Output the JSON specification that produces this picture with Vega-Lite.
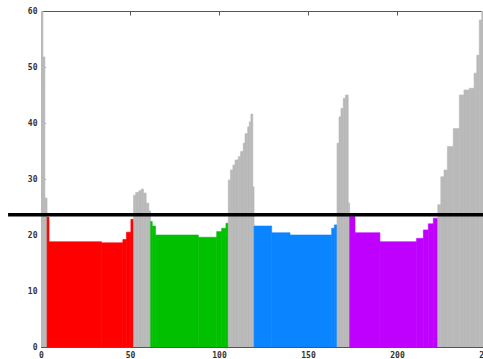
{
  "$schema": "https://vega.github.io/schema/vega-lite/v6.json",
  "autosize": "none",
  "width": 445,
  "height": 336,
  "padding": {"left": 41, "top": 11, "right": 0, "bottom": 12},
  "background": "white",
  "config": {
    "view": {"stroke": "#555", "strokeWidth": 1},
    "axis": {
      "grid": false,
      "domain": false,
      "labelFont": "DejaVu Sans Mono",
      "labelFontWeight": "bold",
      "labelFontSize": 8,
      "labelColor": "#333",
      "tickColor": "#555",
      "title": null
    }
  },
  "datasets": {
    "bars": [
      {"x0": 0, "x1": 1.1, "v": 60, "kind": "gap"},
      {"x0": 1.1, "x1": 2.2, "v": 51.8, "kind": "gap"},
      {"x0": 2.2, "x1": 3.4, "v": 26.6, "kind": "gap"},
      {"x0": 3.4, "x1": 4.5, "v": 23.2, "kind": "A"},
      {"x0": 4.5, "x1": 34, "v": 18.8, "kind": "A"},
      {"x0": 34, "x1": 46, "v": 18.6, "kind": "A"},
      {"x0": 46, "x1": 48, "v": 19.2, "kind": "A"},
      {"x0": 48, "x1": 50.5, "v": 20.5, "kind": "A"},
      {"x0": 50.5, "x1": 52, "v": 22.8, "kind": "A"},
      {"x0": 52, "x1": 53.2, "v": 27.1, "kind": "gap"},
      {"x0": 53.2, "x1": 55, "v": 27.6, "kind": "gap"},
      {"x0": 55, "x1": 56.3, "v": 27.9, "kind": "gap"},
      {"x0": 56.3, "x1": 57.6, "v": 28.2, "kind": "gap"},
      {"x0": 57.6, "x1": 59.1, "v": 27.5, "kind": "gap"},
      {"x0": 59.1, "x1": 60.6, "v": 25.7, "kind": "gap"},
      {"x0": 60.6, "x1": 61.6, "v": 24.3, "kind": "gap"},
      {"x0": 61.6, "x1": 62.5, "v": 22.4, "kind": "B"},
      {"x0": 62.5, "x1": 64.3, "v": 21.6, "kind": "B"},
      {"x0": 64.3, "x1": 88.4, "v": 20.0, "kind": "B"},
      {"x0": 88.4, "x1": 98.7, "v": 19.6, "kind": "B"},
      {"x0": 98.7, "x1": 101.5, "v": 20.6, "kind": "B"},
      {"x0": 101.5, "x1": 103.9, "v": 21.2, "kind": "B"},
      {"x0": 103.9, "x1": 105.2, "v": 22.1, "kind": "B"},
      {"x0": 105.2, "x1": 106.4, "v": 29.8, "kind": "gap"},
      {"x0": 106.4, "x1": 107.8, "v": 31.6, "kind": "gap"},
      {"x0": 107.8, "x1": 109.0, "v": 32.5, "kind": "gap"},
      {"x0": 109.0, "x1": 110.8, "v": 33.4, "kind": "gap"},
      {"x0": 110.8, "x1": 112.1, "v": 34.0, "kind": "gap"},
      {"x0": 112.1, "x1": 113.6, "v": 34.9, "kind": "gap"},
      {"x0": 113.6, "x1": 114.6, "v": 36.4, "kind": "gap"},
      {"x0": 114.6, "x1": 116.1, "v": 38.1, "kind": "gap"},
      {"x0": 116.1, "x1": 117.0, "v": 39.3, "kind": "gap"},
      {"x0": 117.0, "x1": 117.9, "v": 40.2, "kind": "gap"},
      {"x0": 117.9, "x1": 119.0, "v": 41.6, "kind": "gap"},
      {"x0": 119.0, "x1": 119.7, "v": 28.6, "kind": "gap"},
      {"x0": 119.7, "x1": 129.6, "v": 21.6, "kind": "C"},
      {"x0": 129.6, "x1": 139.9, "v": 20.4, "kind": "C"},
      {"x0": 139.9, "x1": 163.3, "v": 20.0, "kind": "C"},
      {"x0": 163.3, "x1": 164.8, "v": 21.2, "kind": "C"},
      {"x0": 164.8, "x1": 166.3, "v": 21.8, "kind": "C"},
      {"x0": 166.3, "x1": 167.4, "v": 36.4, "kind": "gap"},
      {"x0": 167.4, "x1": 168.5, "v": 41.1, "kind": "gap"},
      {"x0": 168.5, "x1": 169.8, "v": 42.6, "kind": "gap"},
      {"x0": 169.8, "x1": 171.0, "v": 44.4, "kind": "gap"},
      {"x0": 171.0, "x1": 172.6, "v": 45.0, "kind": "gap"},
      {"x0": 172.6, "x1": 173.4, "v": 25.7, "kind": "gap"},
      {"x0": 173.4, "x1": 176.4, "v": 23.3, "kind": "D"},
      {"x0": 176.4, "x1": 190.4, "v": 20.4, "kind": "D"},
      {"x0": 190.4, "x1": 211.0, "v": 18.8, "kind": "D"},
      {"x0": 211.0, "x1": 214.8, "v": 19.4, "kind": "D"},
      {"x0": 214.8, "x1": 217.6, "v": 20.9, "kind": "D"},
      {"x0": 217.6, "x1": 220.4, "v": 22.0, "kind": "D"},
      {"x0": 220.4, "x1": 222.9, "v": 23.0, "kind": "D"},
      {"x0": 222.9, "x1": 224.6, "v": 25.4, "kind": "gap"},
      {"x0": 224.6, "x1": 226.4, "v": 30.4, "kind": "gap"},
      {"x0": 226.4, "x1": 228.3, "v": 31.6, "kind": "gap"},
      {"x0": 228.3, "x1": 231.6, "v": 35.8, "kind": "gap"},
      {"x0": 231.6, "x1": 235.0, "v": 39.0, "kind": "gap"},
      {"x0": 235.0, "x1": 237.6, "v": 45.0, "kind": "gap"},
      {"x0": 237.6, "x1": 240.6, "v": 45.9, "kind": "gap"},
      {"x0": 240.6, "x1": 243.3, "v": 46.2, "kind": "gap"},
      {"x0": 243.3, "x1": 244.8, "v": 48.9, "kind": "gap"},
      {"x0": 244.8, "x1": 246.2, "v": 52.1, "kind": "gap"},
      {"x0": 246.2, "x1": 247.6, "v": 58.4, "kind": "gap"},
      {"x0": 247.6, "x1": 250, "v": 60, "kind": "gap"}
    ],
    "thr": [{"x0": -18.5, "x1": 250, "v": 23.6}]
  },
  "resolve": {"axis": {"x": "independent", "y": "independent"}},
  "layer": [
    {
      "data": {"name": "bars"},
      "mark": {"type": "bar", "clip": true, "strokeWidth": 0.6},
      "encoding": {
        "x": {
          "field": "x0", "type": "quantitative",
          "scale": {"domain": [0, 250], "nice": false, "zero": false},
          "axis": {"values": [0, 50, 100, 150, 200, 250], "tickSize": -4, "labelPadding": 8, "labelFlush": false, "labelOverlap": false}
        },
        "x2": {"field": "x1"},
        "y": {
          "field": "v", "type": "quantitative",
          "scale": {"domain": [0, 60], "nice": false},
          "axis": {"values": [0, 10, 20, 30, 40, 50, 60], "tickSize": -4, "labelPadding": 8}
        },
        "y2": {"datum": 0},
        "color": {
          "field": "kind", "type": "nominal",
          "scale": {"domain": ["gap", "A", "B", "C", "D"], "range": ["#b9b9b9", "#ff0000", "#00c000", "#0a84ff", "#bf00ff"]},
          "legend": null
        },
        "stroke": {
          "field": "kind", "type": "nominal",
          "scale": {"domain": ["gap", "A", "B", "C", "D"], "range": ["#b9b9b9", "#ff0000", "#00c000", "#0a84ff", "#bf00ff"]},
          "legend": null
        }
      }
    },
    {
      "data": {"name": "thr"},
      "mark": {"type": "rule", "color": "black", "strokeWidth": 3.5},
      "encoding": {
        "x": {"field": "x0", "type": "quantitative", "axis": {"orient": "top", "values": [0, 50, 100, 150, 200, 250], "labels": false, "tickSize": -4}},
        "x2": {"field": "x1"},
        "y": {"field": "v", "type": "quantitative", "axis": {"orient": "right", "labels": false, "ticks": false}}
      }
    }
  ]
}
